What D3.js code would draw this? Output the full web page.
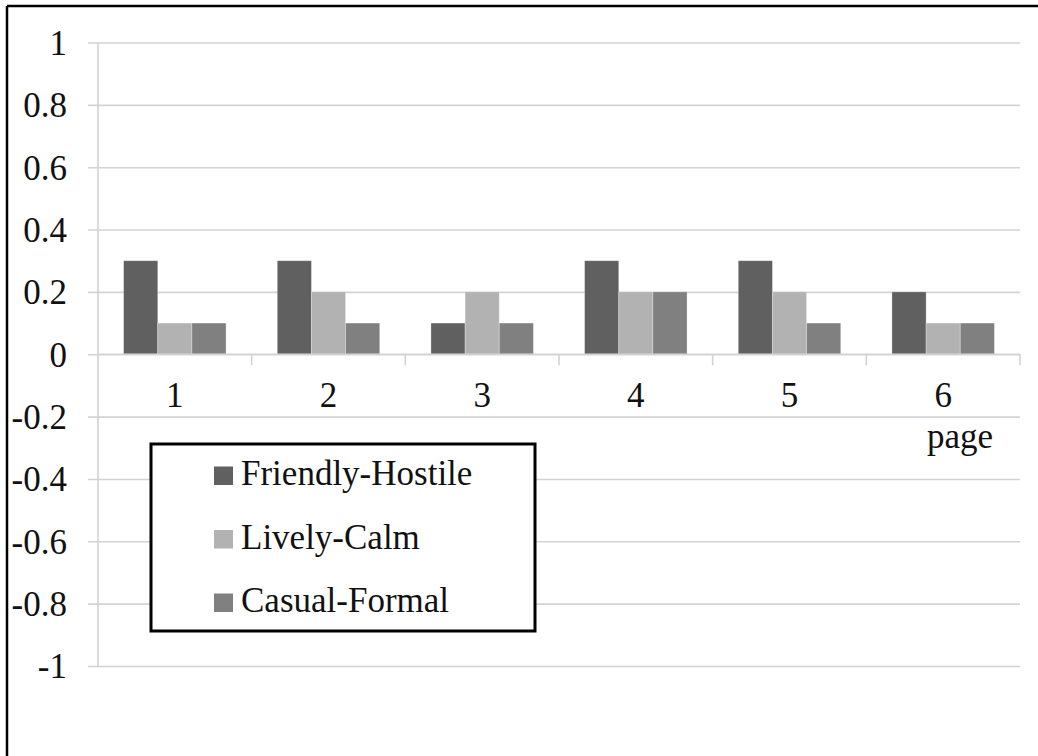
<!DOCTYPE html>
<html>
<head>
<meta charset="utf-8">
<script src="https://cdn.jsdelivr.net/npm/d3@7"></script>
<style>
  html, body { margin: 0; padding: 0; background: #fff; }
  svg { display: block; }
  text { font-family: "Liberation Serif", "Times New Roman", serif; fill: #111; }
</style>
</head>
<body>
<svg id="chart" width="1038" height="756"></svg>
<script>
const categories = ["1", "2", "3", "4", "5", "6"];
const seriesNames = ["Friendly-Hostile", "Lively-Calm", "Casual-Formal"];
const friendlyHostile = [0.3, 0.3, 0.1, 0.3, 0.3, 0.2];
const livelyCalm = [0.1, 0.2, 0.2, 0.2, 0.2, 0.1];
const casualFormal = [0.1, 0.1, 0.1, 0.2, 0.1, 0.1];
const seriesColors = ["#606060", "#b2b2b2", "#808080"];
const yTicks = [1, 0.8, 0.6, 0.4, 0.2, 0, -0.2, -0.4, -0.6, -0.8, -1];
const xTitle = "page";

(function () {
const seriesValues = [friendlyHostile, livelyCalm, casualFormal];
const FS = 35;

const svg = d3.select("#chart");
const pLeft = 98, pRight = 1020, pTop = 42.5, pBottom = 666;

// outer frame (left and top visible)
svg.append("line").attr("x1", 7).attr("x2", 1038).attr("y1", 6).attr("y2", 6)
  .attr("stroke", "#000").attr("stroke-width", 2.5);
svg.append("line").attr("x1", 7).attr("x2", 7).attr("y1", 6).attr("y2", 756)
  .attr("stroke", "#000").attr("stroke-width", 2.5);

const y = d3.scaleLinear().domain([-1, 1]).range([pBottom, pTop]);
const x0 = d3.scaleBand().domain(categories).range([pLeft, pRight]).padding(0);
const bw = x0.bandwidth();
const x1 = d3.scaleBand().domain(seriesNames).range([bw / 6, bw * 5 / 6]).padding(0);

// gridlines + y labels via axis
const gy = svg.append("g").attr("transform", `translate(${pRight},0)`);
gy.call(d3.axisLeft(y).tickValues(yTicks).tickSize(pRight - pLeft + 10).tickFormat(d => String(d)).tickPadding(21));
gy.select(".domain").remove();
gy.selectAll(".tick line").attr("stroke", "#d3d3d3").attr("stroke-width", 1.6);
gy.selectAll(".tick text")
  .attr("font-size", FS).attr("fill", "#111")
  .attr("font-family", "Liberation Serif, Times New Roman, serif")
  .attr("dy", "0.34em");

// y axis vertical line
svg.append("line").attr("x1", pLeft).attr("x2", pLeft).attr("y1", pTop).attr("y2", pBottom)
  .attr("stroke", "#d3d3d3").attr("stroke-width", 1.6);

// bars
const groups = svg.append("g").selectAll("g").data(categories).join("g")
  .attr("transform", d => `translate(${x0(d)},0)`);
groups.selectAll("rect")
  .data((c, i) => seriesNames.map((s, j) => ({ s, j, v: seriesValues[j][i] })))
  .join("rect")
  .attr("x", d => x1(d.s))
  .attr("width", x1.bandwidth())
  .attr("y", d => y(Math.max(0, d.v)))
  .attr("height", d => Math.abs(y(d.v) - y(0)))
  .attr("fill", d => seriesColors[d.j])
  .attr("stroke", "#ffffff").attr("stroke-opacity", 0.35).attr("stroke-width", 0.8);

// x axis at zero
const xAxisG = svg.append("g").attr("transform", `translate(0,${y(0)})`);
xAxisG.append("line").attr("x1", pLeft).attr("x2", pRight).attr("y1", 0).attr("y2", 0)
  .attr("stroke", "#d3d3d3").attr("stroke-width", 1.6);
const boundaries = categories.map(c => x0(c)).concat([pRight]);
xAxisG.selectAll("line.tk").data(boundaries.slice(1)).join("line").attr("class", "tk")
  .attr("x1", d => d).attr("x2", d => d).attr("y1", 0).attr("y2", 11)
  .attr("stroke", "#d3d3d3").attr("stroke-width", 1.6);
xAxisG.selectAll("text.lbl").data(categories).join("text").attr("class", "lbl")
  .attr("x", d => x0(d) + bw / 2).attr("y", 53)
  .attr("text-anchor", "middle").attr("font-size", FS).text(d => d);

// x title
svg.append("text").attr("x", 960).attr("y", 448).attr("text-anchor", "middle")
  .attr("font-size", FS).text(xTitle);

// legend
const lg = svg.append("g");
lg.append("rect").attr("x", 151).attr("y", 444).attr("width", 384).attr("height", 187)
  .attr("fill", "#fff").attr("stroke", "#000").attr("stroke-width", 3);
seriesNames.forEach((s, i) => {
  const by = 485 + i * 63.5;
  lg.append("rect").attr("x", 214).attr("y", by - 18.5).attr("width", 19).attr("height", 18.5)
    .attr("fill", seriesColors[i]);
  lg.append("text").attr("x", 241).attr("y", by).attr("font-size", FS).text(s);
});
})();
</script>
</body>
</html>
